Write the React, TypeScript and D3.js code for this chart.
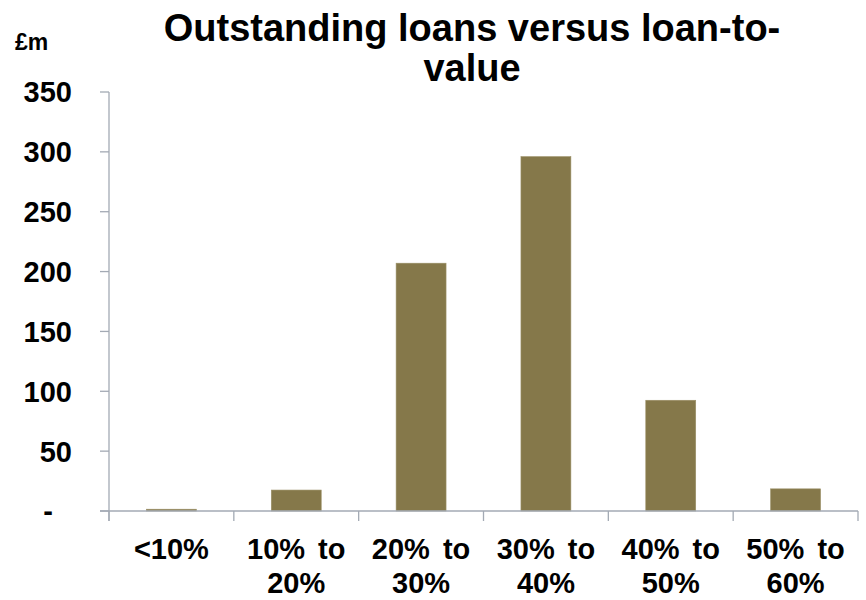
import React from "react";
import * as d3 from "d3";

const categories: string[][] = [
  ["<10%"],
  ["10% to", "20%"],
  ["20% to", "30%"],
  ["30% to", "40%"],
  ["40% to", "50%"],
  ["50% to", "60%"],
];
const categoryKeys = ["<10%", "10-20%", "20-30%", "30-40%", "40-50%", "50-60%"];
const values = [1.5, 17.5, 207, 296, 92.5, 18.5];
const yTicks = [0, 50, 100, 150, 200, 250, 300, 350];
const titleLines = ["Outstanding loans versus loan-to-", "value"];
const unitLabel = "£m";

const W = 866;
const H = 600;
const left = 109;
const right = 858;
const top = 92;
const bottom = 511;
const font = "'Liberation Sans', Arial, sans-serif";
const axisColor = "#A3AAB4";
const barColor = "#85784A";

export default function App() {
  const x = d3
    .scaleBand<string>()
    .domain(categoryKeys)
    .range([left, right])
    .paddingInner(0.6)
    .paddingOuter(0.3);
  const y = d3.scaleLinear().domain([0, 350]).range([bottom, top]);
  const step = x.step();
  const boundaries = d3.range(categoryKeys.length + 1).map((i) => left + i * step);

  return (
    <svg
      width={W}
      height={H}
      style={{ position: "absolute", left: 0, top: 0, display: "block", background: "#fff" }}
      fontFamily={font}
    >
      {/* Title */}
      {titleLines.map((t, i) => (
        <text
          key={t}
          x={472}
          y={41 + i * 40}
          textAnchor="middle"
          fontSize={38}
          fontWeight="bold"
          fill="#000"
        >
          {t}
        </text>
      ))}
      <text x={15} y={50} fontSize={23} fontWeight="bold" fill="#000">
        {unitLabel}
      </text>

      {/* Bars */}
      {values.map((v, i) => (
        <rect
          key={categoryKeys[i]}
          x={x(categoryKeys[i])}
          y={y(v)}
          width={x.bandwidth()}
          height={bottom - y(v)}
          fill={barColor}
          stroke="#9a8f66"
          strokeWidth={0.6}
        />
      ))}

      {/* Y axis */}
      <line x1={left} x2={left} y1={top} y2={bottom + 10} stroke={axisColor} strokeWidth={1.3} />
      {yTicks.map((t) => (
        <g key={t}>
          <line x1={left - 9} x2={left} y1={y(t)} y2={y(t)} stroke={axisColor} strokeWidth={1.3} />
          <text
            x={t === 0 ? 53 : 72}
            y={y(t)}
            dy="0.36em"
            textAnchor="end"
            fontSize={29}
            fontWeight="bold"
            fill="#000"
          >
            {t === 0 ? "-" : d3.format("d")(t)}
          </text>
        </g>
      ))}

      {/* X axis */}
      <line x1={left - 9} x2={right} y1={bottom} y2={bottom} stroke={axisColor} strokeWidth={1.3} />
      {boundaries.map((b, i) => (
        <line key={i} x1={b} x2={b} y1={bottom} y2={bottom + 10} stroke={axisColor} strokeWidth={1.3} />
      ))}
      {categories.map((lines, i) => {
        const cx = (x(categoryKeys[i]) as number) + x.bandwidth() / 2;
        return lines.map((ln, j) => (
          <text
            key={i + "-" + j}
            x={cx}
            y={559 + j * 34}
            textAnchor="middle"
            fontSize={29}
            fontWeight="bold"
            wordSpacing={5}
            fill="#000"
          >
            {ln}
          </text>
        ));
      })}
    </svg>
  );
}
